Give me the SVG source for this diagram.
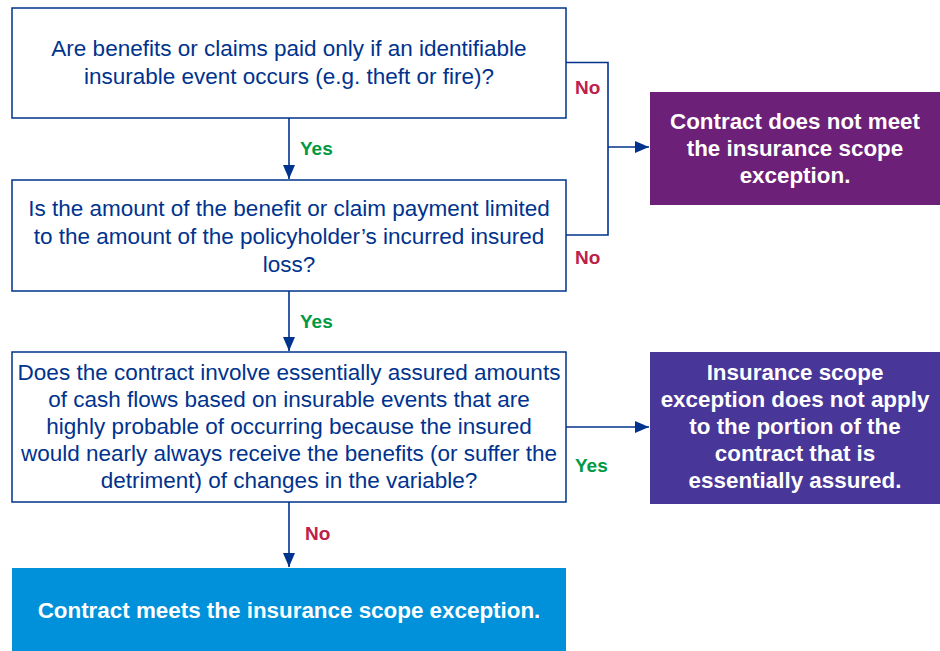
<svg xmlns="http://www.w3.org/2000/svg" width="940" height="651" viewBox="0 0 940 651">
<defs>
<marker id="ah" viewBox="0 0 14 12" refX="14" refY="6" markerWidth="14" markerHeight="12" markerUnits="userSpaceOnUse" orient="auto">
<path d="M0,0 L14,6 L0,12 z" fill="#00338D"/>
</marker>
<style>
.q{fill:#fff;stroke:#00338D;stroke-width:1.5}
.qt{font-family:"Liberation Sans",Arial,sans-serif;font-size:22.5px;fill:#00338D;text-anchor:middle}
.rt{font-family:"Liberation Sans",Arial,sans-serif;font-size:22.4px;font-weight:bold;fill:#fff;text-anchor:middle}
.c{fill:none;stroke:#00338D;stroke-width:1.6}
.yes{font-family:"Liberation Sans",Arial,sans-serif;font-size:19px;font-weight:bold;fill:#009A44}
.no{font-family:"Liberation Sans",Arial,sans-serif;font-size:19px;font-weight:bold;fill:#BC204B}
</style>
</defs>
<rect width="940" height="651" fill="#fff"/>
<g id="connectors">
<path class="c" d="M289,118 V179" marker-end="url(#ah)"/>
<path class="c" d="M289,291 V351" marker-end="url(#ah)"/>
<path class="c" d="M289,502 V567" marker-end="url(#ah)"/>
<path class="c" d="M566,62.5 H608 V235 H566"/>
<path class="c" d="M608,147 H649" marker-end="url(#ah)"/>
<path class="c" d="M566,427 H649" marker-end="url(#ah)"/>
<text class="yes" x="300" y="155">Yes</text>
<text class="yes" x="300" y="328">Yes</text>
<text class="no" x="305" y="540">No</text>
<text class="no" x="575" y="94">No</text>
<text class="no" x="575" y="264">No</text>
<text class="yes" x="575" y="472">Yes</text>
</g>
<g id="q1">
<rect class="q" x="12" y="8" width="554" height="110"/>
<text class="qt" x="289" y="56">Are benefits or claims paid only if an identifiable</text>
<text class="qt" x="289" y="84">insurable event occurs (e.g. theft or fire)?</text>
</g>
<g id="q2">
<rect class="q" x="12" y="180" width="554" height="111"/>
<text class="qt" x="289" y="216">Is the amount of the benefit or claim payment limited</text>
<text class="qt" x="289" y="244">to the amount of the policyholder’s incurred insured</text>
<text class="qt" x="289" y="272">loss?</text>
</g>
<g id="q3">
<rect class="q" x="12" y="352" width="554" height="150"/>
<text class="qt" x="289" y="380">Does the contract involve essentially assured amounts</text>
<text class="qt" x="289" y="407">of cash flows based on insurable events that are</text>
<text class="qt" x="289" y="434">highly probable of occurring because the insured</text>
<text class="qt" x="289" y="461">would nearly always receive the benefits (or suffer the</text>
<text class="qt" x="289" y="488">detriment) of changes in the variable?</text>
</g>
<g id="r1">
<rect x="650" y="92" width="290" height="113" fill="#6D2077"/>
<text class="rt" x="795" y="129">Contract does not meet</text>
<text class="rt" x="795" y="156">the insurance scope</text>
<text class="rt" x="795" y="183">exception.</text>
</g>
<g id="r2">
<rect x="650" y="352" width="290" height="152" fill="#483698"/>
<text class="rt" x="795" y="380">Insurance scope</text>
<text class="rt" x="795" y="407">exception does not apply</text>
<text class="rt" x="795" y="434">to the portion of the</text>
<text class="rt" x="795" y="461">contract that is</text>
<text class="rt" x="795" y="488">essentially assured.</text>
</g>
<g id="r3">
<rect x="12" y="568" width="554" height="83" fill="#0091DA"/>
<text class="rt" x="289" y="618">Contract meets the insurance scope exception.</text>
</g>
</svg>
